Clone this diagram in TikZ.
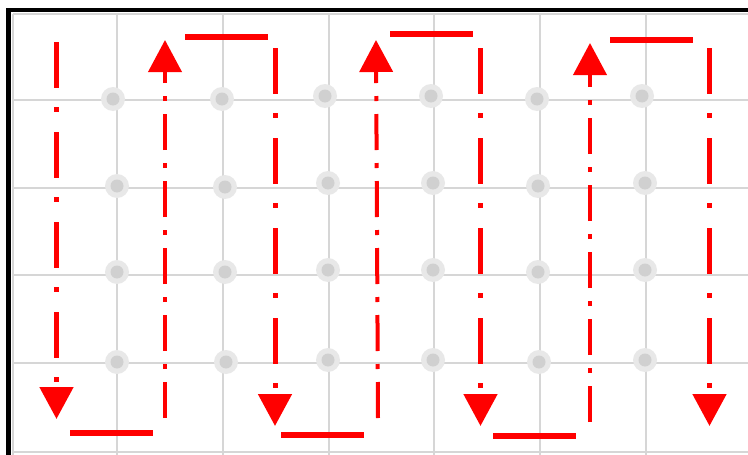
\documentclass[tikz,border=0pt]{standalone}
\usetikzlibrary{arrows.meta}
\definecolor{gridgray}{HTML}{D6D6D6}
\definecolor{dotout}{HTML}{E8E8E8}
\definecolor{dotin}{HTML}{D0D0D0}
\definecolor{pathred}{HTML}{FF0000}
\tikzset{
  gridline/.style={draw=gridgray, line width=2.2pt},
  frameline/.style={draw=black, line width=4.5pt},
  downline/.style={draw=pathred, line width=5pt, dash pattern=on 46pt off 19pt on 5pt off 20pt,
    -{Triangle[width=33pt,length=32pt]}},
  upline/.style={draw=pathred, line width=4pt, dash pattern=on 36pt off 13pt on 5pt off 13pt,
    -{Triangle[width=33pt,length=32pt]}},
  hline/.style={draw=pathred, line width=5.5pt},
}
\begin{document}
\begin{tikzpicture}[x=1pt,y=-1pt]
\useasboundingbox (0,0) rectangle (748,455);
\fill[white] (0,0) rectangle (748,455);
% grid
\foreach \x in {13,117,223,329,434,540,646} \draw[gridline] (\x,14) -- (\x,455);
\foreach \y in {14,100,188,275,363,452} \draw[gridline] (13,\y) -- (748,\y);
% frame
\draw[frameline] (8.5,455) -- (8.5,10) -- (748,10);
% dots
\foreach \p in {(113,99),(222,99),(325,96),(431,96),(537,99),(642,96),
                (117,186),(225,187),(328,183),(433,183),(538,186),(645,183),
                (117,272),(225,272),(328,270),(433,270),(538,272),(645,270),
                (117,362),(226,362),(328,360),(433,360),(539,362),(645,360)}{
  \fill[dotout] \p circle (12pt);
  \fill[dotin] \p circle (6.5pt);
}
% vertical path coordinates
\coordinate (c1s) at (56.5,42);  \coordinate (c1e) at (56.5,419);
\coordinate (c2s) at (165,418);  \coordinate (c2e) at (165,40);
\coordinate (c3s) at (275,48);   \coordinate (c3e) at (275,426);
\coordinate (c4s) at (378,418);  \coordinate (c4e) at (376,40);
\coordinate (c5s) at (480.5,48); \coordinate (c5e) at (480.5,426);
\coordinate (c6s) at (590,422);  \coordinate (c6e) at (590,43);
\coordinate (c7s) at (709.5,48); \coordinate (c7e) at (709.5,426);
% horizontal segment coordinates
\coordinate (t1a) at (185,37);  \coordinate (t1b) at (268,37);
\coordinate (t2a) at (390,34);  \coordinate (t2b) at (473,34);
\coordinate (t3a) at (610,40);  \coordinate (t3b) at (693,40);
\coordinate (b1a) at (70,433);  \coordinate (b1b) at (153,433);
\coordinate (b2a) at (281,435); \coordinate (b2b) at (364,435);
\coordinate (b3a) at (493,436); \coordinate (b3b) at (576,436);
% paths
\draw[downline] (c1s) -- (c1e);
\draw[upline]   (c2s) -- (c2e);
\draw[downline] (c3s) -- (c3e);
\draw[upline]   (c4s) -- (c4e);
\draw[downline] (c5s) -- (c5e);
\draw[upline]   (c6s) -- (c6e);
\draw[downline] (c7s) -- (c7e);
\draw[hline] (t1a) -- (t1b);
\draw[hline] (t2a) -- (t2b);
\draw[hline] (t3a) -- (t3b);
\draw[hline] (b1a) -- (b1b);
\draw[hline] (b2a) -- (b2b);
\draw[hline] (b3a) -- (b3b);
\end{tikzpicture}
\end{document}
